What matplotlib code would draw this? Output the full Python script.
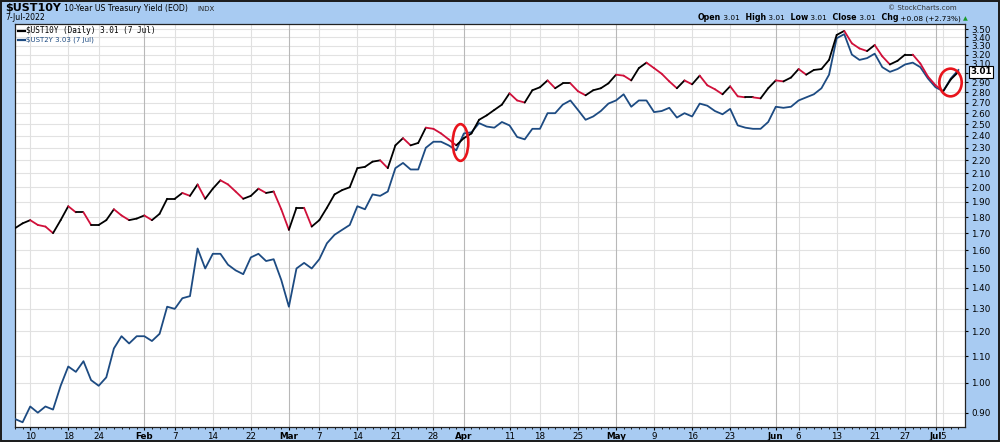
import numpy as np
import pandas as pd
import matplotlib
matplotlib.use("Agg")
import matplotlib.pyplot as plt
from matplotlib.collections import LineCollection
from matplotlib.path import Path
from matplotlib.transforms import Affine2D
from matplotlib.patches import Rectangle
import matplotlib.lines as mlines

# ---------------- data ----------------
holidays = ["2022-01-17", "2022-02-21", "2022-04-15", "2022-05-30", "2022-06-20", "2022-07-04"]
dates = pd.bdate_range("2022-01-06", "2022-07-07", freq="C", holidays=holidays)

ust10y = [
    # Jan 6 .. Jan 31
    1.73, 1.76, 1.78, 1.75, 1.74, 1.70, 1.78, 1.87, 1.83, 1.83, 1.75, 1.75, 1.78, 1.85, 1.81, 1.78, 1.79,
    # Feb
    1.81, 1.78, 1.82, 1.92, 1.92, 1.96, 1.94, 2.02, 1.92, 1.99, 2.05, 2.02, 1.97, 1.92, 1.94, 1.99, 1.96, 1.97, 1.85,
    # Mar
    1.72, 1.86, 1.86, 1.74, 1.78, 1.86, 1.95, 1.98, 2.00, 2.14, 2.15, 2.19, 2.20, 2.14, 2.32, 2.38, 2.32, 2.34,
    2.47, 2.46, 2.42, 2.37, 2.32,
    # Apr
    2.38, 2.42, 2.54, 2.58, 2.63, 2.68, 2.79, 2.72, 2.70, 2.82, 2.85, 2.92, 2.84, 2.89, 2.89, 2.81, 2.77, 2.82,
    2.84, 2.89,
    # May
    2.98, 2.97, 2.92, 3.05, 3.11, 3.05, 2.99, 2.91, 2.84, 2.92, 2.88, 2.97, 2.87, 2.83, 2.78, 2.86, 2.76, 2.75,
    2.75, 2.74, 2.84,
    # Jun
    2.92, 2.91, 2.95, 3.04, 2.98, 3.03, 3.04, 3.14, 3.43, 3.48, 3.33, 3.27, 3.24, 3.31, 3.18, 3.09, 3.13, 3.20,
    3.20, 3.10, 2.96,
    # Jul
    2.87, 2.81, 2.93, 3.01,
]

ust2y = [
    # Jan 6 .. Jan 31
    0.88, 0.87, 0.92, 0.90, 0.92, 0.91, 0.99, 1.06, 1.04, 1.08, 1.01, 0.99, 1.02, 1.13, 1.18, 1.15, 1.18,
    # Feb
    1.18, 1.16, 1.19, 1.31, 1.30, 1.35, 1.36, 1.61, 1.50, 1.58, 1.58, 1.52, 1.49, 1.47, 1.56, 1.58, 1.54, 1.55, 1.44,
    # Mar
    1.31, 1.50, 1.53, 1.50, 1.55, 1.64, 1.69, 1.72, 1.75, 1.87, 1.85, 1.95, 1.94, 1.97, 2.14, 2.18, 2.13, 2.13,
    2.30, 2.35, 2.35, 2.32, 2.28,
    # Apr
    2.42, 2.43, 2.51, 2.48, 2.47, 2.52, 2.49, 2.39, 2.37, 2.46, 2.46, 2.60, 2.60, 2.68, 2.72, 2.63, 2.54, 2.57,
    2.62, 2.69,
    # May
    2.72, 2.78, 2.66, 2.72, 2.72, 2.61, 2.62, 2.65, 2.56, 2.60, 2.57, 2.69, 2.67, 2.62, 2.59, 2.64, 2.49, 2.47,
    2.46, 2.46, 2.52,
    # Jun
    2.66, 2.65, 2.66, 2.72, 2.75, 2.78, 2.84, 2.98, 3.39, 3.44, 3.20, 3.14, 3.16, 3.21, 3.06, 3.01, 3.04, 3.09,
    3.11, 3.06, 2.94,
    # Jul
    2.85, 2.81, 2.94, 3.03,
]

tick_dates = ["2022-01-10", "2022-01-18", "2022-01-24", "2022-02-01", "2022-02-07", "2022-02-14", "2022-02-22",
              "2022-03-01", "2022-03-07", "2022-03-14", "2022-03-21", "2022-03-28", "2022-04-01", "2022-04-11",
              "2022-04-18", "2022-04-25", "2022-05-02", "2022-05-09", "2022-05-16", "2022-05-23", "2022-06-01",
              "2022-06-06", "2022-06-13", "2022-06-21", "2022-06-27", "2022-07-01", "2022-07-05"]
tick_labels = ["10", "18", "24", "Feb", "7", "14", "22", "Mar", "7", "14", "21", "28", "Apr", "11", "18", "25",
               "May", "9", "16", "23", "Jun", "6", "13", "21", "27", "Jul", "5"]
month_labels = {"Feb", "Mar", "Apr", "May", "Jun", "Jul"}

y_levels = [0.90, 1.00, 1.10, 1.20, 1.30, 1.40, 1.50, 1.60, 1.70, 1.80, 1.90, 2.00, 2.10, 2.20, 2.30, 2.40,
            2.50, 2.60, 2.70, 2.80, 2.90, 3.00, 3.10, 3.20, 3.30, 3.40, 3.50]
last_10y = 3.01

# annotation ellipses: (date, x shift, y centre, width px, height px)
circles = [("2022-04-01", -0.5, 2.35, 15.6, 36.7), ("2022-07-06", -0.05, 2.90, 22.4, 27.7)]

# ---------------- figure ----------------
BG = "#a8cbf2"
RED = "#d0103a"
NAVY = "#1d4b82"
W, H = 1000, 442
fig = plt.figure(figsize=(10, 4.42), dpi=100, facecolor=BG)
ax = fig.add_axes([15 / W, 1 - 427 / H, 950 / W, 403 / H])
ax.set_facecolor("white")

x = np.arange(len(dates))
pos = {d: i for i, d in enumerate(dates.strftime("%Y-%m-%d"))}
tick_pos = [pos[d] for d in tick_dates]

ax.set_yscale("log")
ax.set_ylim(0.8555, 3.566)
ax.set_xlim(pos["2022-01-10"] - 1.65, pos["2022-01-10"] + 122.87)

# grid
for lv in y_levels:
    ax.axhline(lv, color="#e2e2e2", lw=0.8, zorder=0)
for tp, lb in zip(tick_pos, tick_labels):
    ax.axvline(tp, color="#b8b8b8" if lb in month_labels else "#e0e0e0", lw=0.8, zorder=0)

# 2Y line
ax.plot(x, ust2y, color=NAVY, lw=1.3, zorder=3, solid_joinstyle="round")

# 10Y line colored by direction
y10 = np.array(ust10y)
pts = np.column_stack([x, y10])
segs = np.stack([pts[:-1], pts[1:]], axis=1)
cols = [RED if b < a else "black" for a, b in zip(y10[:-1], y10[1:])]
lc = LineCollection(segs, colors=cols, linewidths=1.3, zorder=4, capstyle="round")
ax.add_collection(lc)

# red ellipses
for d, dx, yc, wpx, hpx in circles:
    ell = Path.unit_circle().transformed(Affine2D().scale(wpx / hpx, 1.0))
    ax.plot([pos[d] + dx], [yc], marker=ell, markersize=hpx * 0.72, mfc="none", mec="#e8141c",
            mew=1.9, zorder=6, linestyle="none")

# axes ticks
ax.yaxis.tick_right()
ax.set_yticks(y_levels)
ax.set_yticklabels(["" if abs(v - 3.0) < 1e-9 else f"{v:.2f}" for v in y_levels])
ax.yaxis.set_minor_locator(matplotlib.ticker.NullLocator())
ax.tick_params(axis="y", which="major", labelsize=6.3, length=2, pad=2.3, colors="black")
ax.set_xticks(tick_pos)
ax.set_xticklabels(tick_labels)
for t in ax.get_xticklabels():
    if t.get_text() in month_labels:
        t.set_fontweight("bold")
ax.set_xticks(x, minor=True)
ax.tick_params(axis="x", which="major", labelsize=6.3, length=2, pad=1.5)
ax.tick_params(axis="x", which="minor", length=1.5, width=0.6)
for s in ax.spines.values():
    s.set_color("#222222")
    s.set_linewidth(0.9)

# last value tag
ax.annotate(f"{last_10y:.2f}", xy=(1.0, last_10y), xycoords=("axes fraction", "data"),
            xytext=(4, 0), textcoords="offset points", va="center", ha="left", fontsize=6.3,
            fontweight="bold", annotation_clip=False,
            bbox=dict(boxstyle="square,pad=0.15", fc="white", ec="black", lw=0.8))

# legend inside plot
ax.add_line(mlines.Line2D([0.003, 0.010], [1 - 6.5 / 403] * 2, transform=ax.transAxes,
                          color="black", lw=1.6))
ax.text(0.012, 1 - 6.5 / 403, f"$UST10Y (Daily) {ust10y[-1]:.2f} (7 Jul)", transform=ax.transAxes,
        family="DejaVu Sans Mono", fontsize=5.6, va="center", ha="left", color="black")
ax.add_line(mlines.Line2D([0.003, 0.010], [1 - 15.5 / 403] * 2, transform=ax.transAxes, color=NAVY, lw=1.6))
ax.text(0.012, 1 - 15.5 / 403, f"$UST2Y {ust2y[-1]:.2f} (7 Jul)", transform=ax.transAxes,
        family="DejaVu Sans", fontsize=5.0, va="center", ha="left", color=NAVY)


def chain(prev, txt, base_y, gap=0.0, **kw):
    """Place text right after `prev`, sharing the baseline base_y (figure fraction)."""
    return plt.annotate(txt, xy=(1, base_y), xycoords=(prev, "figure fraction"), xytext=(gap, 0),
                        textcoords="offset points", va="baseline", ha="left", **kw)


# header
y1 = 1 - 11 / H
y2 = 1 - 20.5 / H
t1 = fig.text(5 / W, y1, "$UST10Y", fontsize=8, fontweight="bold", va="baseline", ha="left")
a1 = chain(t1, "10-Year US Treasury Yield (EOD)", y1, gap=2.5, fontsize=5.6)
chain(a1, "INDX", y1, gap=6.5, fontsize=5.0, color="#222222")
fig.text(5 / W, y2, "7-Jul-2022", fontsize=5.6, va="baseline", ha="left")
fig.text(957 / W, 1 - 9.5 / H, "\u00a9 StockCharts.com", fontsize=5.0, va="baseline", ha="right",
         color="#333333")

parts = [("Open", True), (" 3.01", False), ("  High", True), (" 3.01", False), ("  Low", True),
         (" 3.01", False), ("  Close", True), (" 3.01", False), ("  Chg", True), (" +0.08 (+2.73%)", False)]
prev = fig.text(698 / W, y2, parts[0][0], fontsize=5.7, fontweight="bold", va="baseline", ha="left")
for txt, bold in parts[1:]:
    prev = chain(prev, txt, y2, fontsize=5.7 if bold else 5.3, fontweight="bold" if bold else "normal")
chain(prev, "\u25b2", y2 + 0.5 / H, gap=1.5, fontsize=4.5, color="#1a9a2a")

# outer frame
fig.patches.append(Rectangle((0.0008, 0.0015), 0.9984, 0.997, transform=fig.transFigure, fill=False,
                             ec="#1a1a1a", lw=1.4))

fig.savefig("out.png", dpi=100, facecolor=BG)
